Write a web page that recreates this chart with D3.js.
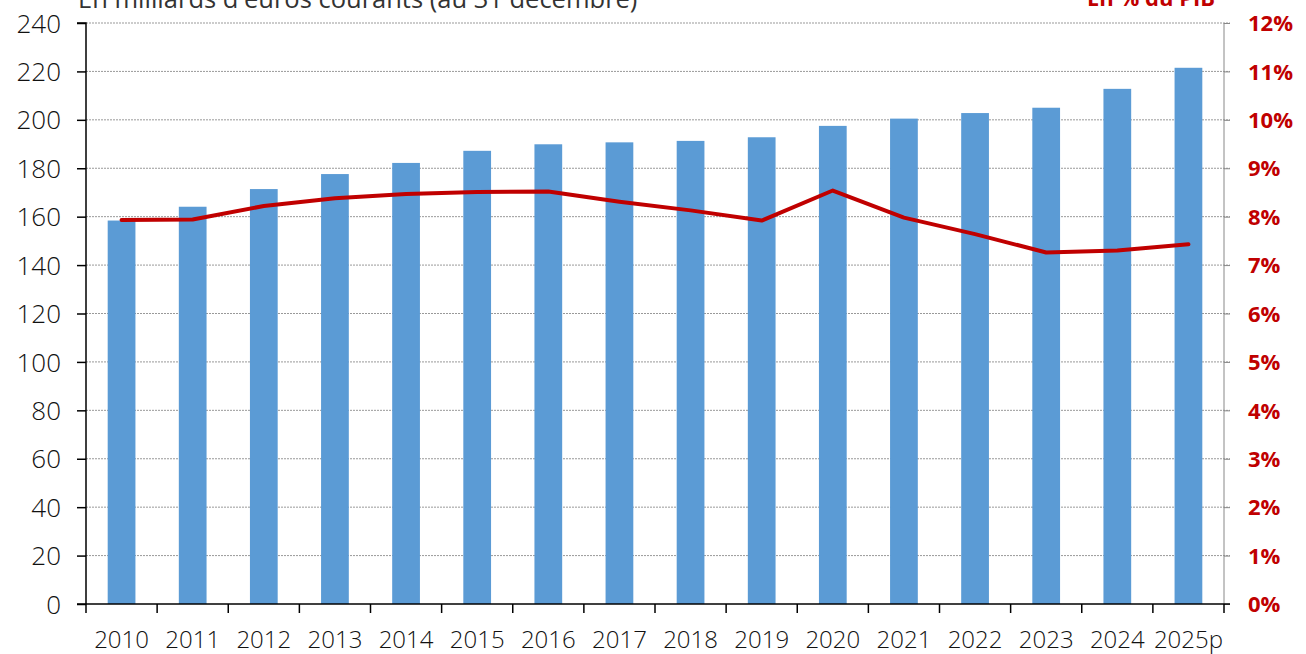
<!DOCTYPE html>
<html><head><meta charset="utf-8">
<script src="https://cdn.jsdelivr.net/npm/d3@7"></script>
<style>html,body{margin:0;padding:0;background:#fff;} svg{display:block;}</style>
</head><body>
<svg id="chart" width="1306" height="654"></svg>
<script>
const years = ["2010","2011","2012","2013","2014","2015","2016","2017","2018","2019","2020","2021","2022","2023","2024","2025p"];
const amounts = [158.4,164.1,171.4,177.6,182.2,187.2,189.9,190.7,191.3,192.8,197.5,200.5,202.8,205.0,212.8,221.5];
const pctGDP = [7.93,7.94,8.22,8.38,8.47,8.51,8.52,8.31,8.13,7.92,8.54,7.98,7.64,7.26,7.30,7.43];
const leftTicks = [0,20,40,60,80,100,120,140,160,180,200,220,240];
const rightTicks = [0,1,2,3,4,5,6,7,8,9,10,11,12];
const leftTitle = "En milliards d'euros courants (au 31 décembre)";
const rightTitle = "En % du PIB";

const svg = d3.select("#chart");
const L = 86, R = 1224, T = 23, B = 604;
const font = "'Open Sans', sans-serif";

const x = d3.scaleBand().domain(years).range([L, R]).paddingInner(0.61).paddingOuter(0.305);
const yL = d3.scaleLinear().domain([0, 240]).range([B, T]);
const yR = d3.scaleLinear().domain([0, 12]).range([B, T]);
const step = x.step();

// gridlines
svg.append("g").selectAll("line").data(leftTicks.filter(d => d > 0)).join("line")
  .attr("x1", L).attr("x2", R + 6)
  .attr("y1", d => yL(d)).attr("y2", d => yL(d))
  .attr("stroke", "#999").attr("stroke-width", 1).attr("stroke-dasharray", "2,1");

// bars
svg.append("g").selectAll("rect").data(years).join("rect")
  .attr("x", d => x(d)).attr("width", x.bandwidth())
  .attr("y", (d, i) => yL(amounts[i])).attr("height", (d, i) => B - yL(amounts[i]))
  .attr("fill", "#5B9BD5");

// left axis
const gL = svg.append("g").attr("transform", `translate(${L},0)`)
  .call(d3.axisLeft(yL).tickValues(leftTicks).tickSize(9).tickPadding(16));
gL.select(".domain").attr("stroke", "#000").attr("stroke-width", 1.5).attr("d", `M-9,${T}H0V${B}`);
gL.selectAll(".tick line").attr("stroke", "#000").attr("stroke-width", 1.5);
gL.selectAll("text").attr("font-family", font).attr("font-size", 26).attr("font-weight", 300)
  .attr("fill", "#111").attr("dy", "0.35em");

// right axis
const gR = svg.append("g").attr("transform", `translate(${R},0)`)
  .call(d3.axisRight(yR).tickValues(rightTicks).tickFormat(d => d + "%").tickSize(6).tickPadding(18));
gR.select(".domain").attr("stroke", "#888").attr("d", `M0,${T}V${B}`);
gR.selectAll(".tick line").attr("stroke", "#888");
gR.selectAll("text").attr("font-family", font).attr("font-size", 22).attr("font-weight", "bold")
  .attr("fill", "#C00000").attr("dy", "0.35em");

// x axis
const gX = svg.append("g").attr("transform", `translate(0,${B})`);
gX.append("line").attr("x1", L - 9).attr("x2", R + 6).attr("y1", 0).attr("y2", 0)
  .attr("stroke", "#000").attr("stroke-width", 1.5);
const bounds = years.map(d => x(d) - step * x.paddingInner() / 2).concat([R]);
gX.selectAll("line.tk").data(bounds).join("line").attr("class", "tk")
  .attr("x1", d => d).attr("x2", d => d).attr("y1", 0).attr("y2", 9)
  .attr("stroke", "#000").attr("stroke-width", 1.5);
gX.selectAll("text").data(years).join("text")
  .attr("x", d => x(d) + x.bandwidth() / 2).attr("y", 44)
  .attr("text-anchor", "middle").attr("font-family", font).attr("font-size", 24).attr("font-weight", 300)
  .attr("fill", "#111").text(d => d);

// line
const line = d3.line().x((d, i) => x(years[i]) + x.bandwidth() / 2).y(d => yR(d));
svg.append("path").datum(pctGDP).attr("d", line)
  .attr("fill", "none").attr("stroke", "#C00000").attr("stroke-width", 4)
  .attr("stroke-linejoin", "round").attr("stroke-linecap", "round");

// titles
svg.append("text").attr("x", 78).attr("y", 8).attr("font-family", font).attr("font-size", 25.5)
  .attr("fill", "#333").text(leftTitle);
svg.append("text").attr("x", 1087).attr("y", 6).attr("font-family", font).attr("font-size", 22)
  .attr("font-weight", "bold").attr("fill", "#C00000").text(rightTitle);
</script>
</body></html>
